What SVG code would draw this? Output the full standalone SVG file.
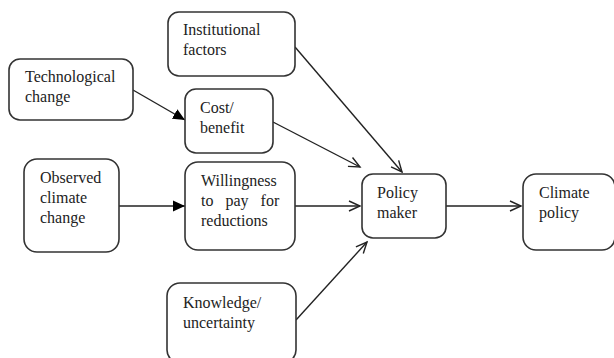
<svg xmlns="http://www.w3.org/2000/svg" width="614" height="358" viewBox="0 0 614 358">
<defs>
<marker id="open" markerWidth="14" markerHeight="12" refX="12" refY="6" orient="auto" markerUnits="userSpaceOnUse">
<path d="M1,1 L12,6 L1,11" fill="none" stroke="#222" stroke-width="1.4"/>
</marker>
<marker id="solid" markerWidth="14" markerHeight="12" refX="12" refY="6" orient="auto" markerUnits="userSpaceOnUse">
<path d="M0,0.5 L12,6 L0,11.5 Z" fill="#000"/>
</marker>
<style>
.box{fill:#fff;stroke:#333;stroke-width:1.6}
.t{font-family:'Liberation Serif','DejaVu Serif',serif;font-size:16px;fill:#222}
.c{stroke:#222;stroke-width:1.4;fill:none}
</style>
</defs>
<rect width="614" height="358" fill="#fff"/>
<g id="connectors">
<line class="c" x1="133" y1="90" x2="185" y2="120" marker-end="url(#solid)"/>
<line class="c" x1="119" y1="206" x2="185" y2="206" marker-end="url(#solid)"/>
<line class="c" x1="295" y1="47" x2="402" y2="172" marker-end="url(#open)"/>
<line class="c" x1="273" y1="122" x2="360" y2="167" marker-end="url(#open)"/>
<line class="c" x1="295" y1="206" x2="360" y2="206" marker-end="url(#open)"/>
<line class="c" x1="296" y1="320" x2="367" y2="242" marker-end="url(#open)"/>
<line class="c" x1="446" y1="206" x2="521" y2="206" marker-end="url(#open)"/>
</g>
<g font-family="Liberation Serif, serif">
<g id="institutional">
<rect class="box" x="168" y="12" width="127" height="64" rx="11"/>
<text class="t" x="183" y="35">Institutional</text>
<text class="t" x="183" y="55">factors</text>
</g>
<g id="technological">
<rect class="box" x="9" y="59" width="124" height="61" rx="11"/>
<text class="t" x="25" y="82">Technological</text>
<text class="t" x="25" y="102">change</text>
</g>
<g id="cost">
<rect class="box" x="185" y="89" width="88" height="64" rx="11"/>
<text class="t" x="200" y="113">Cost/</text>
<text class="t" x="200" y="133">benefit</text>
</g>
<g id="observed">
<rect class="box" x="24" y="159" width="95" height="93" rx="13"/>
<text class="t" x="40" y="183">Observed</text>
<text class="t" x="40" y="203">climate</text>
<text class="t" x="40" y="223">change</text>
</g>
<g id="willingness">
<rect class="box" x="185" y="162" width="110" height="88" rx="13"/>
<text class="t" x="201" y="186">Willingness</text>
<text class="t" x="201" y="206" style="word-spacing:8px">to pay for</text>
<text class="t" x="201" y="226">reductions</text>
</g>
<g id="knowledge">
<rect class="box" x="167" y="283" width="129" height="80" rx="13"/>
<text class="t" x="183" y="308">Knowledge/</text>
<text class="t" x="183" y="328">uncertainty</text>
</g>
<g id="policymaker">
<rect class="box" x="362" y="174" width="84" height="64" rx="11"/>
<text class="t" x="377" y="198">Policy</text>
<text class="t" x="377" y="218">maker</text>
</g>
<g id="climatepolicy">
<rect class="box" x="523" y="174" width="92" height="76" rx="13"/>
<text class="t" x="539" y="198">Climate</text>
<text class="t" x="539" y="218">policy</text>
</g>
</g>
</svg>
